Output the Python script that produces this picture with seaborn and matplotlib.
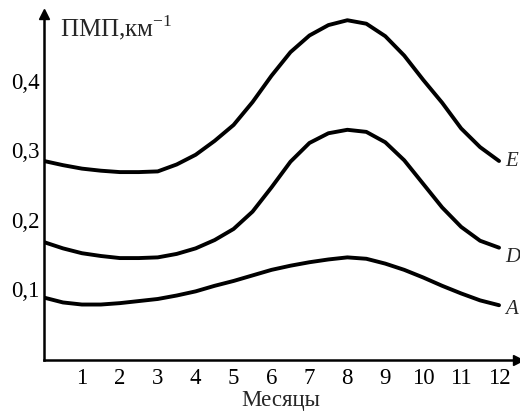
import pandas as pd
import numpy as np
import matplotlib
matplotlib.use('Agg')
import matplotlib.pyplot as plt
import seaborn as sns

# values every half month (0 = where the curves leave the axis)
months = [0, 0.5, 1, 1.5, 2, 2.5, 3, 3.5, 4, 4.5, 5, 5.5, 6,
          6.5, 7, 7.5, 8, 8.5, 9, 9.5, 10, 10.5, 11, 11.5, 12]
curve_E = [0.283, 0.277, 0.272, 0.269, 0.267, 0.267, 0.268, 0.278, 0.292, 0.312, 0.335, 0.368, 0.406,
           0.440, 0.464, 0.479, 0.486, 0.481, 0.463, 0.435, 0.400, 0.367, 0.330, 0.303, 0.283]
curve_D = [0.166, 0.157, 0.150, 0.146, 0.143, 0.143, 0.144, 0.149, 0.157, 0.169, 0.185, 0.210, 0.245,
           0.282, 0.309, 0.323, 0.328, 0.325, 0.310, 0.284, 0.250, 0.216, 0.188, 0.168, 0.158]
curve_A = [0.086, 0.079, 0.076, 0.076, 0.078, 0.081, 0.084, 0.089, 0.095, 0.103, 0.110, 0.118, 0.126,
           0.132, 0.137, 0.141, 0.144, 0.142, 0.135, 0.126, 0.115, 0.103, 0.092, 0.082, 0.075]
curve_names = ['E', 'D', 'A']
label_shift = [0.0, -0.013, -0.005]
xtick_labels = ['1', '2', '3', '4', '5', '6', '7', '8', '9', '10', '11', '12']
ytick_values = [0.1, 0.2, 0.3, 0.4]
ytick_labels = ['0,1', '0,2', '0,3', '0,4']

df = pd.DataFrame({
    'month': months * 3,
    'value': curve_E + curve_D + curve_A,
    'curve': [n for n in curve_names for _ in months],
})

sns.set_style('white')
plt.rcParams['font.family'] = ['Liberation Serif', 'DejaVu Serif']
plt.rcParams['mathtext.fontset'] = 'custom'
plt.rcParams['mathtext.rm'] = 'Liberation Serif'

fig = plt.figure(figsize=(5.2, 4.14), dpi=100)
ax = fig.add_axes([44 / 520, 53 / 414, 474 / 520, 346 / 414])

sns.lineplot(data=df, x='month', y='value', hue='curve',
             palette=['black'] * 3, linewidth=2.8, legend=False, ax=ax)
for line in ax.lines:
    line.set_solid_capstyle('round')
    line.set_solid_joinstyle('round')

ax.set_xlim(0, 12.5)
ax.set_ylim(-0.004, 0.495)

for s in ['top', 'right']:
    ax.spines[s].set_visible(False)
for s in ['left', 'bottom']:
    ax.spines[s].set_linewidth(1.8)
    ax.spines[s].set_color('black')

# arrow heads on the axes
ax.plot(1, 0, '>k', markersize=7, transform=ax.transAxes, clip_on=False)
ax.plot(0, 1, '^k', markersize=7, transform=ax.transAxes, clip_on=False)

ax.set_xticks(range(1, 13))
ax.set_xticklabels(xtick_labels)
ax.set_yticks(ytick_values)
ax.set_yticklabels(ytick_labels)
ax.tick_params(axis='both', direction='in', length=6, width=1.5, color='black',
               labelsize=16.5, labelcolor='black')
ax.tick_params(axis='x', pad=5)
ax.tick_params(axis='y', pad=3)

ax.set_xlabel('Месяцы', fontsize=16.5, labelpad=1)
ax.set_ylabel('')
ax.text(0.034, 0.965, r'ПМП,км$^{\mathregular{-1}}$', transform=ax.transAxes,
        fontsize=18, ha='left', va='center')

# curve labels at the right end
for name, vals, dy in zip(curve_names, [curve_E, curve_D, curve_A], label_shift):
    ax.text(12.16, vals[-1] + dy, name, fontsize=15, style='italic',
            ha='left', va='center', clip_on=False)

fig.savefig('out.png', dpi=100)
